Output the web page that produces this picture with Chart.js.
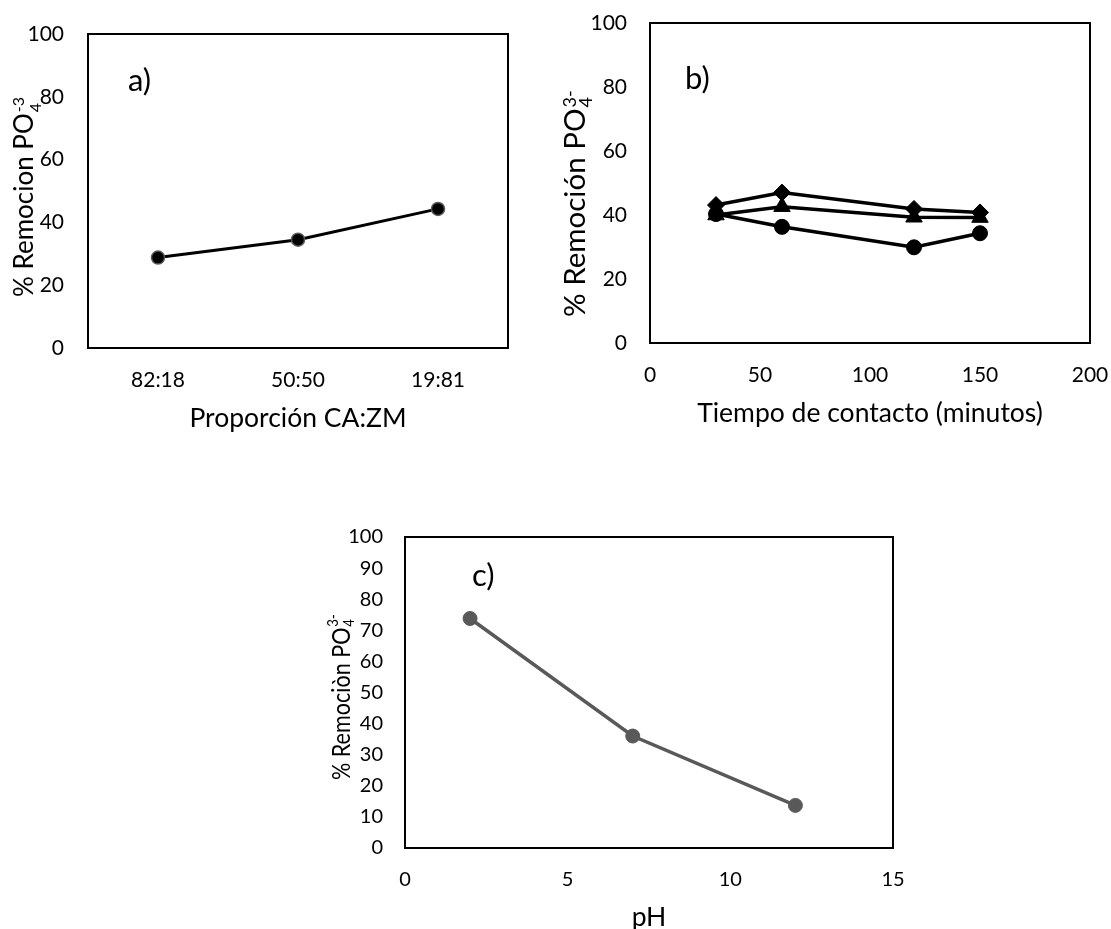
<!DOCTYPE html>
<html lang="es">

<head>
    <meta charset="utf-8">
    <title>Remoción de fosfato</title>
    <script src="https://cdn.jsdelivr.net/npm/chart.js@4.4.0/dist/chart.umd.min.js"></script>
    <style>
    body {
        margin: 0;
        background: #fff;
        width: 1111px;
        height: 929px;
        position: relative;
        overflow: hidden;
    }
    canvas {
        position: absolute;
    }
    </style>
</head>

<body>
    <canvas id="chartA" width="540" height="440" style="left:0;top:0"></canvas>
    <canvas id="chartB" width="566" height="440" style="left:545px;top:0"></canvas>
    <canvas id="chartC" width="600" height="439" style="left:320px;top:490px"></canvas>
<script>
// a) proporcion CA:ZM
var proporciones = ["82:18", "50:50", "19:81"];
var remocionProporcion = [28.8, 34.5, 44.3];

// b) tiempo de contacto
var tiempos = [30, 60, 120, 150];
var remocionRombo = [43.1, 47.0, 41.9, 40.8];
var remocionTriangulo = [40.0, 42.6, 39.3, 39.2];
var remocionCirculo = [40.3, 36.3, 29.9, 34.3];

// c) pH
var valoresPH = [2, 7, 12];
var remocionPH = [73.8, 36.0, 13.7];

var fuente = 'Lato';

function puntos(xs, ys) {
    return xs.map(function(x, i) { return { x: x, y: ys[i] }; });
}

// marco negro alrededor del area del grafico
var marco = {
    id: 'marco',
    beforeDatasetsDraw: function(chart) {
        var a = chart.chartArea, ctx = chart.ctx;
        ctx.save();
        ctx.strokeStyle = '#000';
        ctx.lineWidth = 2;
        ctx.strokeRect(a.left, a.top, a.right - a.left, a.bottom - a.top);
        ctx.restore();
    }
};

// letra del panel y titulo del eje y con subindice / superindice
var rotulos = {
    id: 'rotulos',
    afterDraw: function(chart, args, o) {
        var ctx = chart.ctx;
        ctx.save();
        ctx.fillStyle = '#000';
        ctx.textBaseline = 'alphabetic';
        ctx.textAlign = 'left';
        ctx.font = o.letraTam + 'px ' + fuente;
        ctx.fillText(o.letra, o.letraX, o.letraY);
        ctx.translate(o.tituloX, o.tituloY);
        ctx.rotate(-Math.PI / 2);
        ctx.scale(o.escala || 1, 1);
        ctx.font = o.tituloTam + 'px ' + fuente;
        ctx.fillText(o.titulo, 0, 0);
        var w = ctx.measureText(o.titulo).width;
        ctx.font = o.indiceTam + 'px ' + fuente;
        ctx.fillText('4', w + 1, o.bajo);
        ctx.fillText(o.carga, w + 1, o.alto);
        ctx.restore();
    }
};

function ejeY(ancho, paso, pad, tam) {
    return {
        min: 0,
        max: 100,
        grid: { display: false, drawTicks: false },
        border: { display: false },
        ticks: { stepSize: paso, padding: pad, color: '#000', font: { family: fuente, size: tam } },
        afterFit: function(s) { s.width = ancho; s.paddingTop = 0; s.paddingBottom = 0; }
    };
}

function ejeX(alto, texto, padTitulo, tam, extra) {
    var eje = {
        grid: { display: false, drawTicks: false },
        border: { display: false },
        ticks: { padding: 20, color: '#000', maxRotation: 0, font: { family: fuente, size: tam } },
        title: {
            display: true,
            text: texto,
            color: '#000',
            padding: { top: 0, bottom: padTitulo },
            font: { family: fuente, size: 26.5, lineHeight: 1 }
        },
        afterFit: function(s) { s.height = alto; s.paddingLeft = 0; s.paddingRight = 0; }
    };
    for (var k in extra) eje[k] = extra[k];
    if (extra.paso) eje.ticks.stepSize = extra.paso;
    return eje;
}

function opciones(padding, x, y, rot) {
    return {
        responsive: false,
        animation: false,
        layout: { padding: padding },
        plugins: { legend: { display: false }, tooltip: { enabled: false }, rotulos: rot },
        scales: { x: x, y: y }
    };
}

new Chart(document.getElementById('chartA'), {
    type: 'line',
    data: {
        labels: proporciones,
        datasets: [{
            data: remocionProporcion,
            borderColor: '#000',
            borderWidth: 3,
            pointRadius: 6.5,
            pointBackgroundColor: '#000',
            pointBorderColor: '#595959',
            pointBorderWidth: 1.5
        }]
    },
    options: opciones({ top: 34, right: 32, left: 0, bottom: 0 },
        ejeX(92, 'Proporción CA:ZM', 8, 21, { offset: true }),
        ejeY(88, 20, 24, 21), {
            letra: 'a)', letraX: 128, letraY: 91, letraTam: 31,
            titulo: '% Remocion PO', carga: '-3',
            tituloX: 33, tituloY: 297, tituloTam: 26, indiceTam: 16, bajo: 8, alto: -9
        }),
    plugins: [marco, rotulos]
});

function serieB(valores, estilo, radio) {
    return {
        data: puntos(tiempos, valores),
        borderColor: '#000',
        borderWidth: 3.5,
        pointStyle: estilo,
        pointRadius: radio,
        pointBackgroundColor: '#000',
        pointBorderColor: '#000',
        pointBorderWidth: 1
    };
}

new Chart(document.getElementById('chartB'), {
    type: 'line',
    data: {
        datasets: [
            serieB(remocionRombo, 'rectRot', 8.5),
            serieB(remocionTriangulo, 'triangle', 9.5),
            serieB(remocionCirculo, 'circle', 7.5)
        ]
    },
    options: opciones({ top: 23, right: 21, left: 0, bottom: 0 },
        ejeX(97, 'Tiempo de contacto (minutos)', 13, 21, { type: 'linear', min: 0, max: 200, paso: 50 }),
        ejeY(105, 20, 23, 21), {
            letra: 'b)', letraX: 140, letraY: 89, letraTam: 31,
            titulo: '% Remoción PO', carga: '3-',
            tituloX: 40, tituloY: 317, tituloTam: 29.5, indiceTam: 18, bajo: 7, alto: -9
        }),
    plugins: [marco, rotulos]
});

new Chart(document.getElementById('chartC'), {
    type: 'line',
    data: {
        datasets: [{
            data: puntos(valoresPH, remocionPH),
            borderColor: '#595959',
            borderWidth: 3.5,
            pointRadius: 7,
            pointBackgroundColor: '#595959',
            pointBorderColor: '#595959',
            pointBorderWidth: 1
        }]
    },
    options: opciones({ top: 47, right: 27, left: 0, bottom: 0 },
        ejeX(81, 'pH', -2, 20, { type: 'linear', min: 0, max: 15, paso: 5 }),
        ejeY(85, 10, 22, 20), {
            letra: 'c)', letraX: 152, letraY: 96, letraTam: 31,
            titulo: '% Remociòn PO', carga: '3-',
            tituloX: 30, tituloY: 290, tituloTam: 24.5, indiceTam: 15, bajo: 4, alto: -12, escala: 0.88
        }),
    plugins: [marco, rotulos]
});
</script>
</body>

</html>
